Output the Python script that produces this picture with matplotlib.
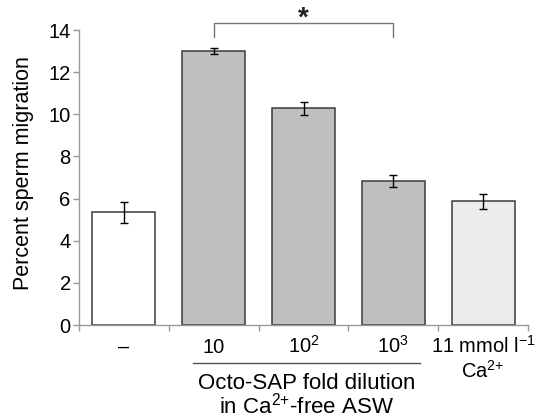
import matplotlib.pyplot as plt

plt.rcParams['font.family'] = ['Liberation Sans', 'DejaVu Sans']
plt.rcParams['mathtext.fontset'] = 'custom'
plt.rcParams['mathtext.rm'] = 'Liberation Sans'
plt.rcParams['mathtext.it'] = 'Liberation Sans'
plt.rcParams['mathtext.bf'] = 'Liberation Sans:bold'

# data
groups = ['–', '10', '$\\mathregular{10^2}$', '$\\mathregular{10^3}$',
          '11 mmol l$\\mathregular{^{{-}1}}$']
values = [5.35, 13.0, 10.28, 6.83, 5.87]
errors = [0.5, 0.13, 0.3, 0.3, 0.37]
colors = ['white', '#bfbfbf', '#bfbfbf', '#bfbfbf', '#ececec']
yticks = [0, 2, 4, 6, 8, 10, 12, 14]

fig = plt.figure(figsize=(5.38, 4.19), dpi=100)
ax = fig.add_axes([79 / 538, 1 - 325 / 419, 449 / 538, 295 / 419])

x = list(range(len(values)))
ax.bar(x, values, width=0.7, color=colors, edgecolor='#3a3a3a', linewidth=1.1)
ax.errorbar(x, values, yerr=errors, fmt='none', ecolor='black',
            elinewidth=1, capsize=3, capthick=1)

ax.set_xlim(-0.5, 4.5)
ax.set_ylim(0, 14)
ax.set_yticks(yticks)
ax.set_xticks([i - 0.5 for i in range(len(values) + 1)])
ax.set_xticklabels([])
for s in ['top', 'right']:
    ax.spines[s].set_visible(False)
for s in ['left', 'bottom']:
    ax.spines[s].set_color('#999999')
    ax.spines[s].set_linewidth(1)
ax.tick_params(axis='both', color='#999999', length=4, width=1, labelsize=14.5)
ax.tick_params(axis='y', pad=2)
ax.set_ylabel('Percent sperm migration', fontsize=15.5)
ax.yaxis.set_label_coords(-0.10, 0.515)

fs = 14.5
# category labels under the axis
for i, g in enumerate(groups):
    ax.annotate(g, xy=(i, 0), xycoords=('data', 'axes fraction'),
                xytext=(0, -20), textcoords='offset points',
                ha='center', va='baseline', fontsize=fs)
ax.annotate('Ca$\\mathregular{^{2{+}}}$', xy=(4, 0), xycoords=('data', 'axes fraction'),
            xytext=(0, -38), textcoords='offset points',
            ha='center', va='baseline', fontsize=fs)

# group line and caption for the dilutions
ax.plot([0.77, 3.3], [-0.129, -0.129], color='#555555', lw=1,
        transform=ax.get_xaxis_transform(), clip_on=False)
ax.annotate('Octo-SAP fold dilution', xy=(2.03, 0), xycoords=('data', 'axes fraction'),
            xytext=(0, -46), textcoords='offset points',
            ha='center', va='baseline', fontsize=16)
ax.annotate('in Ca$\\mathregular{^{2{+}}}$-free ASW', xy=(2.03, 0),
            xycoords=('data', 'axes fraction'),
            xytext=(0, -63.5), textcoords='offset points',
            ha='center', va='baseline', fontsize=16)

# significance bracket
ax.plot([1, 1, 3, 3], [13.65, 14.35, 14.35, 13.65], color='#777777', lw=1,
        clip_on=False)
ax.text(2, 14.22, '*', ha='center', va='baseline', fontsize=20, fontweight='bold',
        color='#222222', clip_on=False)

fig.savefig('out.png', dpi=100)
